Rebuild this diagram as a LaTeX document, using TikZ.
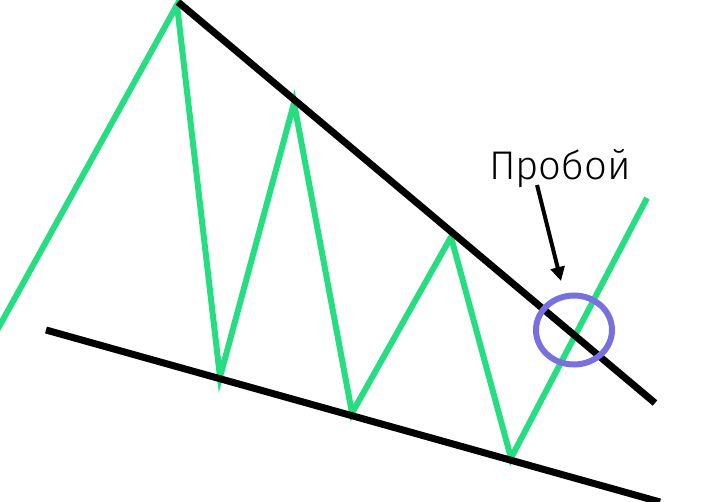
\documentclass[tikz,border=0pt]{standalone}
\usepackage{fontspec}
\setmainfont{Fira Sans Light}
\usetikzlibrary{arrows.meta,shapes.geometric}
\definecolor{grn}{RGB}{38,222,129}
\definecolor{circ}{RGB}{120,112,222}
\tikzset{price/.style={draw=grn,line width=6pt,line join=miter},
trendline/.style={draw=black,line width=7pt},
ring/.style={draw=circ,line width=6pt},
pointer/.style={draw=black,line width=4pt,-{Triangle[length=14pt,width=14pt]}}}
\begin{document}
\begin{tikzpicture}[x=1pt,y=-1pt]
\useasboundingbox (0,0) rectangle (705,502);
\clip (0,0) rectangle (705,502);
\coordinate (p0) at (-5,334);
\coordinate (p1) at (177,5);
\coordinate (p2) at (220,377);
\coordinate (p3) at (294,103);
\coordinate (p4) at (352,413);
\coordinate (p5) at (451,237);
\coordinate (p6) at (511,458);
\coordinate (p7) at (647,198);
\draw[price] (p0)--(p1)--(p2)--(p3)--(p4)--(p5)--(p6)--(p7);
\coordinate (u0) at (178,2);
\coordinate (u1) at (655,403);
\draw[trendline] (u0)--(u1);
\coordinate (l0) at (46,330);
\coordinate (l1) at (660,502);
\draw[trendline] (l0)--(l1);
\node[ring,ellipse,minimum width=76pt,minimum height=69pt,inner sep=0pt] (c) at (574,330) {};
\node[font=\fontsize{40}{40}\selectfont,anchor=base] (t) at (560,180) {Пробой};
\coordinate (a0) at (537,185);
\coordinate (a1) at (561,281);
\draw[pointer] (a0)--(a1);
\end{tikzpicture}
\end{document}
